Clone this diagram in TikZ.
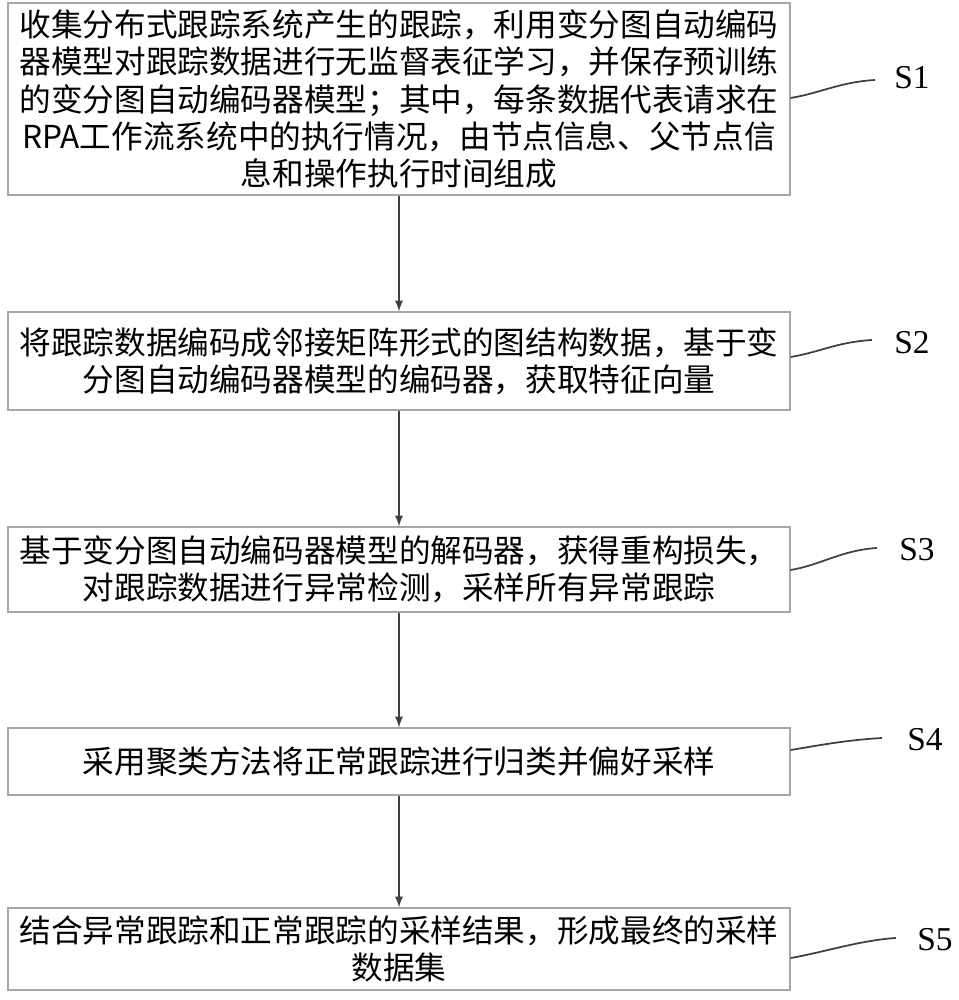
\documentclass[tikz,border=0pt]{standalone}
\usepackage{fontspec}
\newfontfamily\cjk{Noto Sans CJK SC}
\setmainfont{Liberation Serif}
\begin{document}
\begin{tikzpicture}[
        x=0.02cm, y=-0.02cm,
        stepbox/.style={draw=gray!70, line width=0.8pt, minimum width=15.64cm, inner sep=0pt, align=center, font=\cjk\fontsize{18pt}{21.3pt}\selectfont},
        arrow/.style={-latex, line width=1.1pt, draw=black!75},
        lead/.style={line width=1pt, draw=black!75},
        steplabel/.style={font=\fontsize{19pt}{22pt}\selectfont, inner sep=0pt}
    ]
        \useasboundingbox (0,0) rectangle (958,1000);
        % step boxes
        \node[stepbox, minimum height=3.84cm] (s1) at (399,99) {收集分布式跟踪系统产生的跟踪，利用变分图自动编码\\器模型对跟踪数据进行无监督表征学习，并保存预训练\\的变分图自动编码器模型；其中，每条数据代表请求在\\RPA工作流系统中的执行情况，由节点信息、父节点信\\息和操作执行时间组成};
        \node[stepbox, minimum height=1.96cm] (s2) at (399,361) {将跟踪数据编码成邻接矩阵形式的图结构数据，基于变\\分图自动编码器模型的编码器，获取特征向量};
        \node[stepbox, minimum height=1.7cm] (s3) at (399,569.5) {基于变分图自动编码器模型的解码器，获得重构损失，\\对跟踪数据进行异常检测，采样所有异常跟踪};
        \node[stepbox, minimum height=1.34cm] (s4) at (399,761.5) {采用聚类方法将正常跟踪进行归类并偏好采样};
        \node[stepbox, minimum height=1.64cm] (s5) at (399,949) {结合异常跟踪和正常跟踪的采样结果，形成最终的采样\\数据集};

        % arrows between steps
        \foreach \a/\b in {s1/s2, s2/s3, s3/s4, s4/s5} {
            \draw[arrow] (\a.south) -- (\b.north);
        }

        % step labels with leader curves
        \foreach \n/\ly/\ex/\ey/\tx/\ty in {
            1/98/875/80/912/78,
            2/357/872/340/912/343,
            3/570/877/548/917/550,
            4/750/882/738/925/740,
            5/958/896/938/935/940
        } {
            \coordinate (e\n) at (\ex,\ey);
            \node[steplabel] (l\n) at (\tx,\ty) {S\n};
            \draw[lead] (s\n.east |- 0,\ly) .. controls ++(30,-5) and ++(-35,2) .. (e\n);
        }
    \end{tikzpicture}
\end{document}
